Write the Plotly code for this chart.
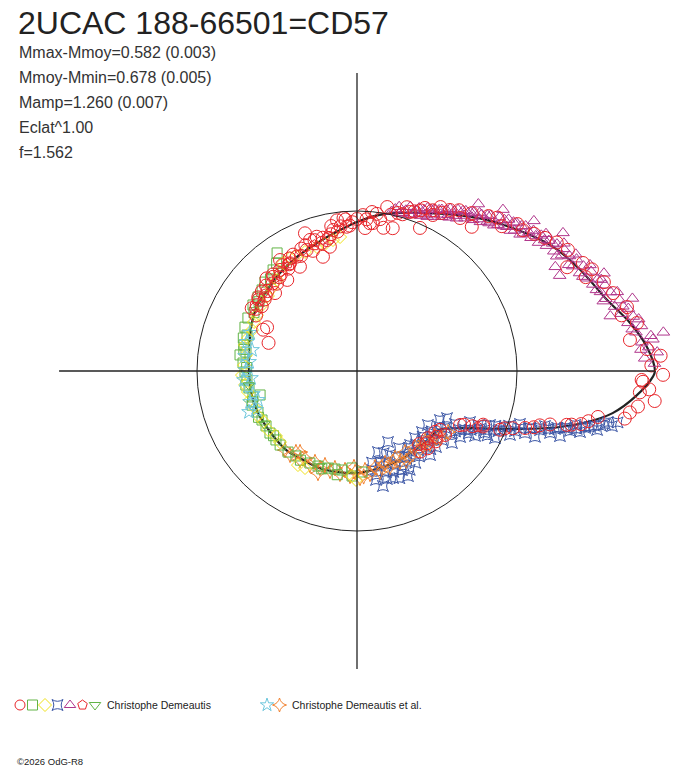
import numpy as np
import plotly.graph_objects as go

OUTPUT_HTML = "out.html"

TITLE = "2UCAC 188-66501=CD57"
STATS = [
    "Mmax-Mmoy=0.582 (0.003)",
    "Mmoy-Mmin=0.678 (0.005)",
    "Mamp=1.260 (0.007)",
    "Eclat^1.00",
    "f=1.562",
]
OBSERVERS = ["Christophe Demeautis", "Christophe Demeautis et al."]
FOOTER = "\u00a92026 OdG-R8"

# courbe ajustee : phase (0-1) et eclat relatif (cercle = eclat moyen = 1)
fit_phase = [0.000, 0.013, 0.028, 0.044, 0.068, 0.090, 0.111, 0.142, 0.181, 0.227,
             0.250, 0.273, 0.298, 0.327, 0.356, 0.383, 0.410, 0.432, 0.469, 0.500,
             0.533, 0.564, 0.597, 0.634, 0.663, 0.692, 0.718, 0.750, 0.786, 0.821,
             0.860, 0.880, 0.901, 0.925, 0.941, 0.956, 0.965, 0.974, 0.986, 0.997, 1.000]
fit_flux = [1.862, 1.819, 1.731, 1.625, 1.531, 1.450, 1.353, 1.225, 1.088, 0.986,
            0.931, 0.879, 0.838, 0.806, 0.779, 0.756, 0.744, 0.722, 0.688, 0.675,
            0.675, 0.672, 0.663, 0.663, 0.650, 0.650, 0.643, 0.638, 0.623, 0.617,
            0.614, 0.619, 0.631, 0.788, 1.000, 1.294, 1.469, 1.619, 1.753, 1.850, 1.862]

# observations, une paire de listes par serie
circle_phase = [0.4075, 0.4145, 0.3894, 0.3731, 0.3790, 0.3656, 0.3536, 0.3540, 0.3386, 0.3272,
                0.3297, 0.3128, 0.3047, 0.2964, 0.2961, 0.2861, 0.2842, 0.2710, 0.2640, 0.2765,
                0.2614, 0.2440, 0.2361, 0.2210, 0.2110, 0.2030, 0.4340, 0.4510, 0.4280, 0.3465,
                0.3075, 0.1667, 0.1556, 0.1872, 0.2097, 0.2350, 0.2410,
                0.318, 0.336, 0.344, 0.360, 0.368, 0.384, 0.395, 0.400, 0.420, 0.290,
                0.280, 0.268, 0.255, 0.250, 0.230, 0.226, 0.216, 0.195, 0.180, 0.172, 0.160,
                0.143, 0.178, 0.184, 0.199, 0.221, 0.091, 0.073, 0.071, 0.047, 0.037,
                0.018, 0.027, 0.012, 0.998, 0.994, 0.055, 0.062, 0.105, 0.118, 0.125,
                0.033, 0.008, 0.132,
                0.995, 0.988, 0.984, 0.980, 0.976, 0.972, 0.970, 0.961, 0.957, 0.944,
                0.936, 0.923, 0.900,
                0.934, 0.938, 0.954, 0.960, 0.872, 0.856, 0.890, 0.902, 0.862, 0.868,
                0.879, 0.884, 0.895, 0.948, 0.951, 0.963, 0.966, 0.941, 0.929, 0.926,
                0.258, 0.262, 0.272, 0.278, 0.283, 0.293, 0.300, 0.306, 0.312, 0.322,
                0.330, 0.340, 0.348, 0.356, 0.364, 0.372, 0.380, 0.390, 0.398, 0.405,
                0.412, 0.240, 0.233, 0.205, 0.190, 0.175, 0.150, 0.138, 0.112, 0.098,
                0.083, 0.065, 0.003, 0.990]
circle_flux = [0.750, 0.766, 0.775, 0.809, 0.707, 0.788, 0.794, 0.717, 0.793, 0.808,
               0.743, 0.819, 0.870, 0.876, 0.745, 0.840, 0.795, 0.950, 0.960, 0.894,
               0.904, 0.975, 0.927, 0.910, 0.920, 1.070, 0.641, 0.580, 0.625, 0.844,
               0.920, 1.162, 1.153, 1.104, 1.020, 0.998, 0.895,
               0.840, 0.820, 0.770, 0.760, 0.740, 0.750, 0.730, 0.760, 0.720, 0.860,
               0.870, 0.910, 0.930, 0.950, 0.990, 0.960, 1.000, 1.060, 1.110, 1.120, 1.190,
               1.152, 1.084, 0.977, 1.047, 1.042, 1.484, 1.465, 1.565, 1.673, 1.734,
               1.717, 1.775, 1.817, 1.913, 1.789, 1.640, 1.545, 1.400, 1.360, 1.280,
               1.690, 1.900, 1.300,
               1.780, 1.773, 1.870, 1.770, 1.725, 1.700, 1.533, 1.382, 1.252, 1.038,
               0.857, 0.727, 0.680,
               0.861, 0.967, 1.192, 1.353, 0.628, 0.640, 0.645, 0.636, 0.600, 0.655,
               0.610, 0.660, 0.620, 1.110, 1.160, 1.440, 1.480, 0.990, 0.800, 0.749,
               0.910, 0.950, 0.880, 0.920, 0.850, 0.830, 0.860, 0.800, 0.850, 0.800,
               0.830, 0.790, 0.810, 0.770, 0.800, 0.760, 0.780, 0.740, 0.770, 0.720,
               0.740, 0.950, 0.930, 1.020, 1.080, 1.150, 1.220, 1.270, 1.360, 1.440,
               1.520, 1.600, 1.840, 1.830]

square_phase = [0.3447, 0.3603, 0.3778, 0.3875, 0.3978, 0.4100, 0.4280, 0.4406, 0.4497, 0.4639,
                0.4731, 0.4889, 0.5014, 0.5130, 0.5248, 0.5389, 0.5500, 0.5625, 0.5758, 0.5864,
                0.5986, 0.6122, 0.6220, 0.6378, 0.6508, 0.6747, 0.6881, 0.7039, 0.7147, 0.7260,
                0.7425, 0.7578, 0.7417, 0.4783, 0.5386,
                0.352, 0.370, 0.402, 0.418, 0.455, 0.470, 0.495, 0.520, 0.545, 0.570,
                0.605, 0.660, 0.695, 0.720]
square_flux = [0.891, 0.821, 0.800, 0.780, 0.772, 0.770, 0.758, 0.752, 0.723, 0.725,
               0.704, 0.714, 0.700, 0.690, 0.683, 0.670, 0.690, 0.670, 0.668, 0.664,
               0.668, 0.665, 0.667, 0.665, 0.654, 0.646, 0.642, 0.633, 0.628, 0.626,
               0.657, 0.632, 0.607, 0.738, 0.624,
               0.840, 0.790, 0.750, 0.740, 0.740, 0.720, 0.690, 0.700, 0.680, 0.680,
               0.660, 0.660, 0.650, 0.660]

diamond_phase = [0.2700, 0.2789, 0.2892, 0.2997, 0.3156, 0.3278, 0.3353, 0.3456, 0.3553, 0.3647,
                 0.3769, 0.3886, 0.4033, 0.4189, 0.4294, 0.4408, 0.4533, 0.4636, 0.4772, 0.4917,
                 0.5056, 0.5197, 0.5303, 0.5422, 0.5553, 0.5678, 0.5797, 0.5931, 0.6075, 0.6186,
                 0.6608, 0.6717, 0.7425, 0.7486]
diamond_flux = [0.844, 0.832, 0.819, 0.814, 0.812, 0.814, 0.821, 0.818, 0.784, 0.757,
                0.743, 0.728, 0.723, 0.716, 0.713, 0.704, 0.712, 0.719, 0.701, 0.707,
                0.719, 0.705, 0.694, 0.693, 0.678, 0.680, 0.663, 0.667, 0.649, 0.655,
                0.694, 0.688, 0.657, 0.681]

starsq_phase = [0.9086, 0.9064, 0.9211, 0.9094, 0.9206, 0.9325, 0.9200, 0.9300, 0.9283, 0.9386,
                0.9280, 0.9378, 0.9425, 0.9370, 0.9422, 0.9500, 0.9436, 0.9494, 0.9436, 0.9503,
                0.9547, 0.9506, 0.9547, 0.9506, 0.9575, 0.9564, 0.9614, 0.9575, 0.9611, 0.9625,
                0.9617, 0.9664, 0.9661,
                0.8490, 0.8636, 0.8547, 0.8800, 0.8717, 0.8964, 0.8864, 0.8780, 0.9150, 0.8914,
                0.9233, 0.8967, 0.8639,
                0.7740, 0.7775, 0.7894, 0.7853, 0.7944, 0.8094, 0.8017, 0.8125, 0.8294, 0.8178,
                0.8303, 0.8219, 0.8450, 0.7903, 0.8156,
                0.912, 0.917, 0.924, 0.931, 0.933, 0.940, 0.945, 0.946, 0.949, 0.952,
                0.953, 0.956, 0.958, 0.959, 0.962, 0.964, 0.965, 0.968, 0.969, 0.919,
                0.927, 0.936,
                0.858, 0.866, 0.875, 0.883, 0.892, 0.899, 0.905, 0.870, 0.850, 0.845,
                0.780, 0.787, 0.793, 0.798, 0.805, 0.810, 0.818, 0.823, 0.828, 0.835,
                0.840, 0.776, 0.800]
starsq_flux = [0.655, 0.699, 0.696, 0.765, 0.769, 0.775, 0.842, 0.850, 0.889, 0.897,
               0.959, 0.967, 0.989, 1.036, 1.056, 1.071, 1.119, 1.138, 1.186, 1.202,
               1.224, 1.267, 1.289, 1.332, 1.348, 1.383, 1.404, 1.445, 1.469, 1.498,
               1.545, 1.585, 1.630,
               0.569, 0.554, 0.624, 0.557, 0.614, 0.557, 0.620, 0.685, 0.602, 0.684,
               0.635, 0.745, 0.696,
               0.626, 0.691, 0.587, 0.737, 0.657, 0.564, 0.706, 0.636, 0.548, 0.680,
               0.621, 0.730, 0.612, 0.523, 0.484,
               0.720, 0.740, 0.800, 0.880, 0.830, 0.930, 1.010, 1.080, 1.140, 1.200,
               1.250, 1.300, 1.360, 1.420, 1.470, 1.520, 1.560, 1.600, 1.660, 0.800,
               0.910, 0.960,
               0.590, 0.620, 0.580, 0.640, 0.600, 0.660, 0.620, 0.670, 0.660, 0.580,
               0.660, 0.610, 0.700, 0.600, 0.670, 0.720, 0.590, 0.660, 0.700, 0.620,
               0.680, 0.580, 0.540]

triangle_phase = [0.004, 0.007, 0.010, 0.013, 0.016, 0.019, 0.022, 0.025, 0.028, 0.031,
                  0.034, 0.036, 0.039, 0.042, 0.045, 0.048, 0.050, 0.053, 0.056, 0.058,
                  0.061, 0.064, 0.066, 0.069, 0.072, 0.075, 0.077, 0.079, 0.082, 0.085,
                  0.087, 0.090, 0.093, 0.095, 0.098, 0.101, 0.104, 0.107, 0.110, 0.113,
                  0.116, 0.119, 0.122, 0.125, 0.128, 0.131, 0.134, 0.137, 0.140, 0.143,
                  0.146, 0.149, 0.152, 0.155, 0.158, 0.161, 0.164, 0.167, 0.170, 0.173,
                  0.176, 0.179, 0.182, 0.185, 0.188, 0.192, 0.196, 0.200, 0.205, 0.210,
                  0.216, 0.060, 0.041, 0.020, 0.112, 0.133, 0.150, 0.094, 0.034, 0.070,
                  0.012, 0.017, 0.024, 0.029, 0.038, 0.044, 0.047, 0.052, 0.057, 0.063,
                  0.068, 0.074, 0.078, 0.083, 0.088, 0.092, 0.097, 0.100, 0.103, 0.108,
                  0.111, 0.115, 0.118, 0.121, 0.124, 0.127, 0.130, 0.136, 0.139, 0.142,
                  0.145, 0.148, 0.151, 0.154, 0.157, 0.160, 0.163, 0.166, 0.169, 0.172,
                  0.175, 0.178, 0.181, 0.184, 0.187, 0.190, 0.194, 0.198, 0.203, 0.208,
                  0.213]
triangle_flux = [1.86, 1.80, 1.88, 1.83, 1.79, 1.85, 1.76, 1.80, 1.72, 1.76,
                 1.69, 1.74, 1.66, 1.70, 1.62, 1.66, 1.60, 1.64, 1.57, 1.61,
                 1.55, 1.59, 1.52, 1.56, 1.50, 1.54, 1.40, 1.51, 1.47, 1.50,
                 1.44, 1.48, 1.42, 1.45, 1.39, 1.43, 1.37, 1.41, 1.35, 1.39,
                 1.32, 1.36, 1.30, 1.34, 1.27, 1.31, 1.24, 1.28, 1.21, 1.25,
                 1.19, 1.23, 1.17, 1.21, 1.14, 1.19, 1.12, 1.17, 1.10, 1.14,
                 1.08, 1.12, 1.06, 1.11, 1.05, 1.09, 1.04, 1.08, 1.03, 1.06,
                 1.02, 1.66, 1.78, 1.93, 1.45, 1.36, 1.29, 1.55, 1.62, 1.40,
                 1.78, 1.86, 1.74, 1.79, 1.71, 1.60, 1.70, 1.58, 1.63, 1.53,
                 1.60, 1.48, 1.55, 1.44, 1.52, 1.46, 1.43, 1.46, 1.40, 1.38,
                 1.33, 1.37, 1.30, 1.35, 1.29, 1.32, 1.25, 1.24, 1.27, 1.22,
                 1.25, 1.20, 1.22, 1.18, 1.20, 1.15, 1.17, 1.13, 1.15, 1.11,
                 1.13, 1.09, 1.11, 1.07, 1.09, 1.06, 1.07, 1.03, 1.05, 1.02,
                 1.04]

pentagon_phase = [0.302, 0.341, 0.931]
pentagon_flux = [0.830, 0.800, 0.830]

tridown_phase = [0.521, 0.583, 0.690]
tridown_flux = [0.682, 0.668, 0.641]

star_phase = [0.4456, 0.4589, 0.4686, 0.4789, 0.4867, 0.4986, 0.5106, 0.5217, 0.5347, 0.5450,
              0.5586, 0.5578, 0.5453, 0.5128]
star_flux = [0.710, 0.711, 0.669, 0.706, 0.677, 0.694, 0.664, 0.688, 0.666, 0.696,
             0.677, 0.722, 0.645, 0.709]

stardia_phase = [0.6325, 0.6428, 0.6472, 0.6594, 0.6642, 0.6761, 0.6811, 0.6919, 0.6978, 0.7080,
                 0.7144, 0.7239, 0.7308, 0.7394, 0.7470, 0.7545, 0.7628, 0.7700, 0.7795, 0.7856,
                 0.7970, 0.8028, 0.8156, 0.8203, 0.8350, 0.8378, 0.8536, 0.8572, 0.8728, 0.8750,
                 0.8894, 0.8920, 0.9061, 0.6525, 0.6919,
                 0.745, 0.760, 0.790, 0.810, 0.830, 0.865]
stardia_flux = [0.668, 0.671, 0.634, 0.661, 0.634, 0.657, 0.626, 0.649, 0.621, 0.647,
                0.622, 0.652, 0.623, 0.658, 0.631, 0.669, 0.621, 0.649, 0.611, 0.647,
                0.601, 0.634, 0.593, 0.629, 0.589, 0.631, 0.598, 0.631, 0.610, 0.645,
                0.634, 0.667, 0.685, 0.619, 0.683,
                0.600, 0.660, 0.620, 0.610, 0.640, 0.620]

RED = "#e8262b"
GREEN = "#62b446"
YELLOW = "#f0e21a"
BLUE = "#3a55a5"
PURPLE = "#b0368c"
CYAN = "#6cc6dc"
ORANGE = "#f28230"
INK = "#222222"

# (phase, eclat, symbole, couleur, taille)
series = [
    (starsq_phase, starsq_flux, "star-square-open", BLUE, 10),
    (stardia_phase, stardia_flux, "star-diamond-open", ORANGE, 11),
    (triangle_phase, triangle_flux, "triangle-up-open", PURPLE, 11),
    (square_phase, square_flux, "square-open", GREEN, 10),
    (diamond_phase, diamond_flux, "diamond-open", YELLOW, 10),
    (star_phase, star_flux, "star-open", CYAN, 11),
    (pentagon_phase, pentagon_flux, "pentagon-open", RED, 11),
    (tridown_phase, tridown_flux, "triangle-down-open", GREEN, 10),
    (circle_phase, circle_flux, "circle-open", RED, 13),
]
legend_order = [
    ["circle-open", "square-open", "diamond-open", "star-square-open",
     "triangle-up-open", "pentagon-open", "triangle-down-open"],
    ["star-open", "star-diamond-open"],
]


def to_xy(phase, flux):
    ang = 2 * np.pi * np.asarray(phase)
    r = np.asarray(flux)
    return r * np.cos(ang), r * np.sin(ang)


# la page a une marge de 8 px : la figure va de (8, 8) a (688, 768)
PAGE_W, PAGE_H, OFF = 688, 768, 8
W, H = PAGE_W - OFF, PAGE_H - OFF
CX, CY, UNIT = 357, 371, 160  # centre et rayon du cercle moyen, en pixels de page

fig = go.Figure()

fx, fy = to_xy(fit_phase, fit_flux)
fig.add_trace(go.Scatter(x=fx, y=fy, mode="lines", line=dict(color=INK, width=2.2, shape="spline"),
                         hoverinfo="skip"))

for ph, fl, sym, col, size in series:
    x, y = to_xy(ph, fl)
    fig.add_trace(go.Scatter(x=x, y=y, mode="markers",
                             marker=dict(symbol=sym, color=col, size=size, line=dict(width=1, color=col))))

# symboles de la legende (repere en pixels de page)
info = {s[2]: s for s in series}
lx0 = [20, 267]
for g, syms in enumerate(legend_order):
    xs = [lx0[g] + 12.5 * i for i in range(len(syms))]
    for xi, sym in zip(xs, syms):
        col = info[sym][3]
        fig.add_trace(go.Scatter(x=[xi], y=[705], xaxis="x2", yaxis="y2", mode="markers",
                                 marker=dict(symbol=sym, color=col, size=10, line=dict(width=1, color=col))))

rmax = max(fit_flux)
fig.add_shape(type="circle", x0=-1, x1=1, y0=-1, y1=1, line=dict(color=INK, width=1))
fig.add_shape(type="line", x0=-rmax, x1=rmax, y0=0, y1=0, line=dict(color=INK, width=1.3))
fig.add_shape(type="line", x0=0, x1=0, y0=-rmax, y1=rmax, line=dict(color=INK, width=1.3))

FONT = "Liberation Sans, Arial, sans-serif"
ann = [dict(x=17, y=23, text=TITLE, font=dict(size=32, color=INK))]
for i, s in enumerate(STATS):
    ann.append(dict(x=18, y=52 + 25 * i, text=s, font=dict(size=16, color="#333333")))
ann.append(dict(x=106, y=705, text=OBSERVERS[0], font=dict(size=10.5, color=INK)))
ann.append(dict(x=291, y=705, text=OBSERVERS[1], font=dict(size=10.5, color=INK)))
ann.append(dict(x=16, y=761, text=FOOTER, font=dict(size=9.5, color=INK)))
for a in ann:
    a.update(xref="x2", yref="y2", xanchor="left", yanchor="middle", showarrow=False, borderpad=0)
    a["font"]["family"] = FONT

fig.update_layout(
    width=W, height=H, autosize=False,
    margin=dict(l=0, r=0, t=0, b=0),
    paper_bgcolor="white", plot_bgcolor="rgba(0,0,0,0)",
    showlegend=False,
    annotations=ann,
    xaxis=dict(range=[-(CX - OFF) / UNIT, (PAGE_W - CX) / UNIT], visible=False, domain=[0, 1]),
    yaxis=dict(range=[-(PAGE_H - CY) / UNIT, (CY - OFF) / UNIT], visible=False, domain=[0, 1]),
    xaxis2=dict(range=[OFF, PAGE_W], visible=False, domain=[0, 1], anchor="y2"),
    yaxis2=dict(range=[PAGE_H, OFF], visible=False, domain=[0, 1], anchor="x2"),
)

fig.write_html(OUTPUT_HTML)
